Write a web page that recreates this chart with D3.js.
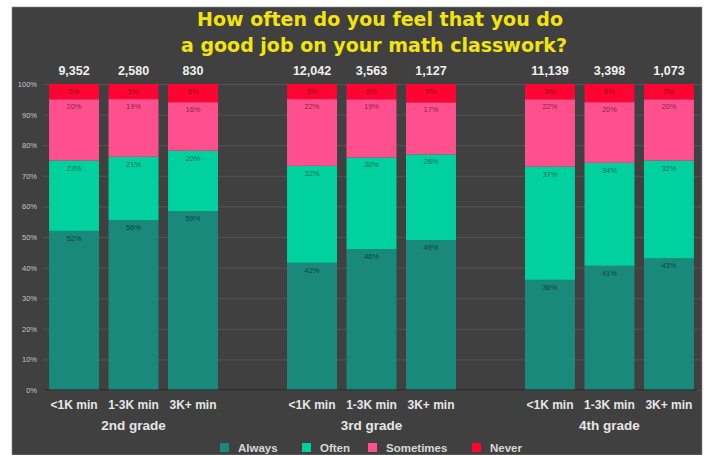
<!DOCTYPE html>
<html>
<head>
<meta charset="utf-8">
<script src="https://cdn.jsdelivr.net/npm/d3@7"></script>
<style>
  body { margin: 0; background: #fff; }
  svg { display: block; font-family: Arial, "Liberation Sans", sans-serif; }
</style>
</head>
<body>
<svg id="chart" width="710" height="455"></svg>
<script>
// data
const grades = ["2nd grade", "3rd grade", "4th grade"];
const minutes = ["<1K min", "1-3K min", "3K+ min"];
const students = [9352, 2580, 830, 12042, 3563, 1127, 11139, 3398, 1073];
const always = [52, 56, 59, 42, 46, 49, 36, 41, 43];
const often = [23, 21, 20, 32, 30, 28, 37, 34, 32];
const sometimes = [20, 19, 16, 22, 19, 17, 22, 20, 20];
const never = [5, 5, 6, 5, 5, 6, 5, 6, 5];
const seriesNames = ["Always", "Often", "Sometimes", "Never"];
const yTicks = [0, 0.1, 0.2, 0.3, 0.4, 0.5, 0.6, 0.7, 0.8, 0.9, 1];

const colors = {
  Always: "#19897b",
  Often: "#00d19f",
  Sometimes: "#ff4f8c",
  Never: "#ff0433"
};

const W = 710, H = 455;
const plot = { left: 44, right: 699, top: 84, bottom: 390 };

const rows = [];
grades.forEach((g, gi) => {
  minutes.forEach((m, mi) => {
    const i = gi * 3 + mi;
    rows.push({
      key: g + "|" + m, grade: g, minutes: m, n: students[i],
      Always: always[i], Often: often[i], Sometimes: sometimes[i], Never: never[i]
    });
  });
});

// slot domain with an empty slot between grades
const domain = [];
grades.forEach((g, gi) => {
  minutes.forEach(m => domain.push(g + "|" + m));
  if (gi < grades.length - 1) domain.push("gap" + gi);
});

const x = d3.scaleBand()
  .domain(domain)
  .range([plot.left, plot.right])
  .paddingInner(0.16)
  .paddingOuter(0.085);

const y = d3.scaleLinear().domain([0, 1]).range([plot.bottom, plot.top]);

const stacked = d3.stack()
  .keys(seriesNames)
  .offset(d3.stackOffsetExpand)(rows);

const svg = d3.select("#chart");

// dark panel
svg.append("rect")
  .attr("x", 12).attr("y", 7)
  .attr("width", 690).attr("height", H - 7)
  .attr("fill", "#404040")
  .attr("stroke", "#8a8a8a").attr("stroke-width", 0.6);

// title
svg.append("text")
  .attr("x", 378).attr("text-anchor", "middle")
  .attr("font-family", "'DejaVu Sans', Verdana, sans-serif")
  .attr("font-size", 19).attr("font-weight", "bold").attr("fill", "#f2e40c")
  .selectAll("tspan")
  .data(["How often do you feel that you do", "a good job on your math classwork?"])
  .join("tspan")
  .attr("x", (d, i) => i ? 374 : 380)
  .attr("y", (d, i) => 26 + i * 26)
  .text(d => d);

// y axis
const yAxis = d3.axisLeft(y)
  .tickValues(yTicks)
  .tickFormat(d3.format(".0%"))
  .tickSize(-(plot.right - plot.left + 3))
  .tickPadding(6);

const gy = svg.append("g")
  .attr("transform", `translate(${plot.left - 1},0)`)
  .call(yAxis);
gy.select(".domain").remove();
gy.selectAll(".tick line").attr("stroke", "#595959").attr("stroke-width", 0.8);
gy.selectAll(".tick text")
  .attr("fill", "#c4c4c4")
  .attr("font-size", 7.5)
  .attr("font-family", "Arial, 'Liberation Sans', sans-serif");

// bars
const layer = svg.append("g")
  .selectAll("g")
  .data(stacked)
  .join("g")
  .attr("fill", d => colors[d.key]);

layer.selectAll("rect")
  .data(d => d)
  .join("rect")
  .attr("x", d => x(d.data.key))
  .attr("width", x.bandwidth())
  .attr("y", d => y(d[1]))
  .attr("height", d => y(d[0]) - y(d[1]));

// segment labels
layer.each(function (s) {
  d3.select(this).selectAll("text")
    .data(s)
    .join("text")
    .attr("x", d => x(d.data.key) + x.bandwidth() / 2)
    .attr("y", d => y(d[1]) + 10)
    .attr("text-anchor", "middle")
    .attr("font-size", 7.5)
    .attr("fill", "#000")
    .attr("fill-opacity", 0.55)
    .text(d => d.data[s.key] + "%");
});

// baseline
svg.append("line")
  .attr("x1", plot.left).attr("x2", plot.right - 2)
  .attr("y1", y(0)).attr("y2", y(0))
  .attr("stroke", "#1e1e1e").attr("stroke-width", 1.2);

// student counts
svg.append("g")
  .selectAll("text")
  .data(rows)
  .join("text")
  .attr("x", d => x(d.key) + x.bandwidth() / 2)
  .attr("y", 75)
  .attr("text-anchor", "middle")
  .attr("font-size", 12.5)
  .attr("font-weight", "bold")
  .attr("fill", "#f0f0f0")
  .text(d => d3.format(",")(d.n));

// category labels
svg.append("g")
  .selectAll("text")
  .data(rows)
  .join("text")
  .attr("x", d => x(d.key) + x.bandwidth() / 2)
  .attr("y", 409)
  .attr("text-anchor", "middle")
  .attr("font-size", 12)
  .attr("font-weight", "bold")
  .attr("fill", "#e6e6e6")
  .text(d => d.minutes);

// grade labels
svg.append("g")
  .selectAll("text")
  .data(grades)
  .join("text")
  .attr("x", g => x(g + "|" + minutes[1]) + x.bandwidth() / 2)
  .attr("y", 430)
  .attr("text-anchor", "middle")
  .attr("font-size", 13.5)
  .attr("font-weight", "bold")
  .attr("fill", "#e6e6e6")
  .text(g => g);

// legend
const legendX = [220, 302, 368, 472];
const legend = svg.append("g")
  .selectAll("g")
  .data(seriesNames)
  .join("g")
  .attr("transform", (d, i) => `translate(${legendX[i]},443)`);

legend.append("rect")
  .attr("width", 9).attr("height", 9)
  .attr("fill", d => colors[d]);

legend.append("text")
  .attr("x", 18).attr("y", 9)
  .attr("font-size", 11.5)
  .attr("font-weight", "bold")
  .attr("fill", "#d8d8d8")
  .text(d => d);
</script>
</body>
</html>
